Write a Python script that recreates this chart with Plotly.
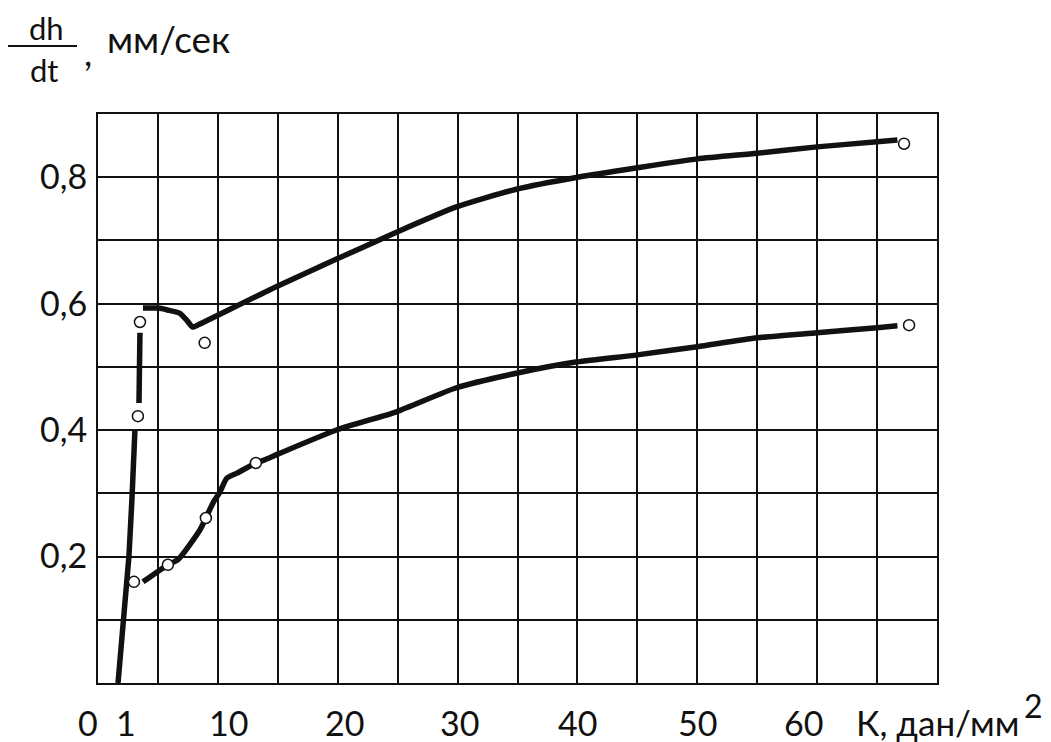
import plotly.graph_objects as go

# --- measured series ---------------------------------------------------------
# Upper curve: steep rise, then a short plateau with a dip, then gradual growth
upper_rise_x = [1.67, 2.08, 2.58, 2.83, 3.08, None, 3.42, 3.50]
upper_rise_y = [0.000, 0.100, 0.200, 0.290, 0.400, None, 0.443, 0.554]
upper_x = [3.75, 5.0, 5.8, 6.8, 7.4, 7.9, 8.3, 15.0, 24.9, 29.9, 34.9,
           40.0, 45.0, 50.0, 55.0, 60.0, 65.0, 66.7]
upper_y = [0.593, 0.593, 0.590, 0.585, 0.574, 0.563, 0.566, 0.628, 0.713,
           0.753, 0.781, 0.800, 0.815, 0.829, 0.838, 0.848, 0.856, 0.859]
upper_pts_x = [3.50, 3.33, 8.9, 67.25]
upper_pts_y = [0.571, 0.422, 0.538, 0.853]

# Lower curve
lower_x = [3.75, 5.83, 6.67, 8.5, 9.0, 9.6, 10.17, 10.75, 11.6, 13.17, 13.9,
           15.0, 20.0, 24.9, 29.9, 34.9, 40.0, 45.0, 50.0, 55.0, 60.0, 65.0, 66.7]
lower_y = [0.160, 0.187, 0.195, 0.242, 0.261, 0.285, 0.302, 0.324, 0.332,
           0.348, 0.353, 0.362, 0.401, 0.429, 0.467, 0.490, 0.508, 0.519,
           0.532, 0.546, 0.554, 0.562, 0.565]
lower_pts_x = [3.0, 5.83, 9.0, 13.17, 67.67]
lower_pts_y = [0.160, 0.187, 0.261, 0.348, 0.566]

# Axis labelling
x_tick_text = ["0", "1", "10", "20", "30", "40", "50", "60"]
x_tick_pos = [-0.83, 2.33, 10.9, 20.6, 30.2, 40.0, 50.0, 58.9]
y_tick_vals = [0.2, 0.4, 0.6, 0.8]
y_tick_text = ["0,2", "0,4", "0,6", "0,8"]

# --- figure geometry ---------------------------------------------------------
W, H = 1051, 742
L, R, T, B = 98, 937, 114, 683
X_MAX, Y_MAX = 70, 0.9
FONT = "Lato"
INK = "#111111"


def px(xp):
    return (xp - L) / (R - L)


def py(yp):
    return (B - yp) / (B - T)


fig = go.Figure()
fig.add_trace(go.Scatter(x=upper_rise_x, y=upper_rise_y, mode="lines",
                         line=dict(color=INK, width=5.5), connectgaps=False))
fig.add_trace(go.Scatter(x=upper_x, y=upper_y, mode="lines",
                         line=dict(color=INK, width=5.5, shape="spline", smoothing=0.6)))
fig.add_trace(go.Scatter(x=lower_x, y=lower_y, mode="lines",
                         line=dict(color=INK, width=5.5, shape="spline", smoothing=0.6)))
marker_style = dict(symbol="circle", size=11, color="white",
                    line=dict(color=INK, width=1.5))
fig.add_trace(go.Scatter(x=upper_pts_x, y=upper_pts_y, mode="markers",
                         marker=marker_style))
fig.add_trace(go.Scatter(x=lower_pts_x, y=lower_pts_y, mode="markers",
                         marker=marker_style))

fig.update_xaxes(range=[0, X_MAX], tickmode="linear", tick0=0, dtick=5,
                 showticklabels=False, ticks="", showgrid=True,
                 gridcolor=INK, gridwidth=2, zeroline=False,
                 showline=True, mirror=True, linecolor=INK, linewidth=2)
fig.update_yaxes(range=[0, Y_MAX], tickmode="array", tickvals=y_tick_vals,
                 ticktext=y_tick_text, ticks="", ticklabelstandoff=2,
                 tickfont=dict(family=FONT, size=34, color=INK),
                 showgrid=True, gridcolor=INK, gridwidth=2, zeroline=False,
                 minor=dict(tickmode="linear", tick0=0, dtick=0.1, showgrid=True,
                            gridcolor=INK, gridwidth=2, ticks=""),
                 showline=True, mirror=True, linecolor=INK, linewidth=2)

annotations = []
for txt, pos in zip(x_tick_text, x_tick_pos):
    annotations.append(dict(x=pos / X_MAX, y=py(722), xref="paper", yref="paper",
                            text=txt, showarrow=False, xanchor="center",
                            yanchor="middle",
                            font=dict(family=FONT, size=34, color=INK)))
# x-axis title with a full-size raised exponent
annotations.append(dict(x=px(855), y=py(722), xref="paper", yref="paper",
                        text="К, дан/мм", showarrow=False,
                        xanchor="left", yanchor="middle", borderpad=0,
                        font=dict(family=FONT, size=35, color=INK)))
annotations.append(dict(x=px(1033), y=py(705), xref="paper", yref="paper",
                        text="2", showarrow=False,
                        xanchor="center", yanchor="middle", borderpad=0,
                        font=dict(family=FONT, size=32, color=INK)))
# y-axis title: dh/dt, мм/сек
annotations.append(dict(x=px(46), y=py(28), xref="paper", yref="paper",
                        text="dh", showarrow=False, xanchor="center", yanchor="middle",
                        font=dict(family=FONT, size=31, color=INK)))
annotations.append(dict(x=px(44), y=py(70), xref="paper", yref="paper",
                        text="dt", showarrow=False, xanchor="center", yanchor="middle",
                        font=dict(family=FONT, size=31, color=INK)))
annotations.append(dict(x=px(88), y=py(52), xref="paper", yref="paper",
                        text=",", showarrow=False, xanchor="center", yanchor="middle",
                        font=dict(family=FONT, size=36, color=INK)))
annotations.append(dict(x=px(105), y=py(39), xref="paper", yref="paper",
                        text="мм/сек", showarrow=False, xanchor="left", yanchor="middle",
                        font=dict(family=FONT, size=37, color=INK)))

fig.update_layout(
    width=W, height=H,
    margin=dict(l=L, r=W - R, t=T, b=H - B),
    paper_bgcolor="white", plot_bgcolor="white",
    showlegend=False,
    annotations=annotations,
    shapes=[dict(type="line", xref="paper", yref="paper",
                 x0=px(8), x1=px(77), y0=py(46), y1=py(46),
                 line=dict(color=INK, width=2))],
)

fig.write_html("out.html")
